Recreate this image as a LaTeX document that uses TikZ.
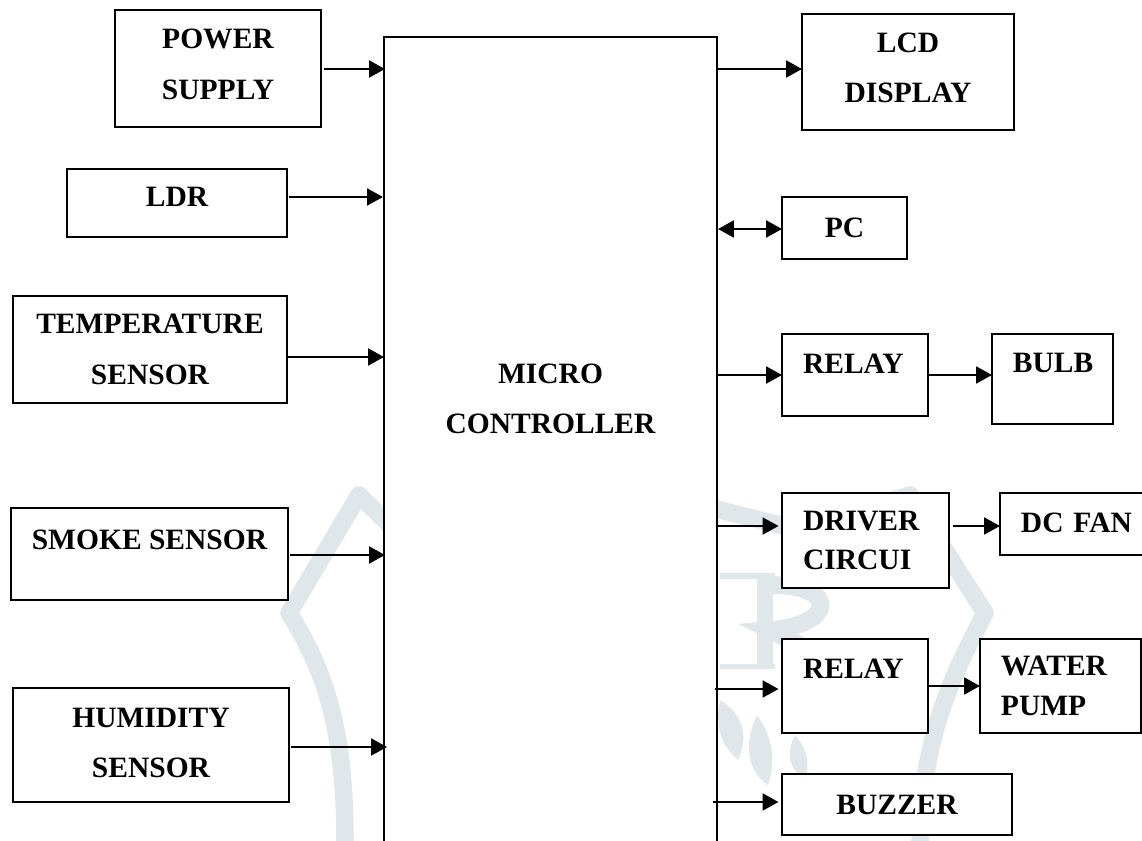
\documentclass[tikz,border=0pt]{standalone}
\usepackage{fontspec}
\setmainfont{Liberation Serif}
\usetikzlibrary{arrows.meta,positioning}
\definecolor{wmk}{HTML}{DFE7EA}
\begin{document}
\begin{tikzpicture}[
  x=0.02cm,y=-0.02cm,
  font=\fontsize{16.8}{28.6}\selectfont\bfseries,
  bx/.style={draw=black,fill=white,line width=1.1pt,outer sep=0pt,inner sep=0pt,align=center},
  lbx/.style={bx,align=left,inner xsep=0.42cm,text width=#1},
  up/.style={text depth=#1},
  ar/.style={-{Stealth[length=9pt,width=9.5pt,inset=0pt]},draw=black,line width=1.5pt},
  dar/.style={{Stealth[length=9pt,width=9.5pt,inset=0pt]}-{Stealth[length=9pt,width=9.5pt,inset=0pt]},draw=black,line width=1.5pt},
  wm/.style={draw=wmk,line width=10pt,line join=round}
]
\useasboundingbox (0,0) rectangle (1142,841);
\clip (0,0) rectangle (1142,841);
% watermark behind the boxes
\draw[wm] (395,530) -- (359,495) -- (289,613) .. controls (325,670) and (345,730) .. (345,841);
\draw[wm] (700,505) -- (800,530) -- (910,495) -- (985,613) .. controls (950,680) and (922,740) .. (920,841);
\fill[wmk] (757,575) rectangle (773,667);
\fill[wmk] (720,573) rectangle (775,579);
\fill[wmk] (720,664) rectangle (775,669);
\draw[wmk,line width=10pt] (770,585) .. controls (840,585) and (835,625) .. (770,630) -- (800,645);
\fill[wmk] (720,700) .. controls (745,715) and (748,740) .. (738,760) .. controls (720,745) and (715,725) .. (720,700);
\fill[wmk] (757,715) .. controls (775,740) and (775,765) .. (768,785) .. controls (745,770) and (745,740) .. (757,715);
\fill[wmk] (795,735) .. controls (808,750) and (810,765) .. (805,780) .. controls (790,770) and (785,755) .. (795,735);

\node[bx,minimum width=6.66cm,minimum height=16.2cm,up=49pt] (mc) at (550.5,442) {MICRO\\CONTROLLER};

% inputs
\node[bx,minimum width=4.12cm,minimum height=2.34cm,up=5pt] (pw) at (218,68.5) {POWER\\SUPPLY};
\node[bx,minimum width=4.4cm,minimum height=1.36cm,up=7pt] (ldr) at (177,203) {LDR};
\node[bx,minimum width=5.48cm,minimum height=2.14cm] (tmp) at (150,349.5) {TEMPERATURE\\SENSOR};
\node[bx,minimum width=5.54cm,minimum height=1.84cm,up=16pt] (smk) at (149.5,554) {SMOKE SENSOR};
\node[bx,minimum width=5.52cm,minimum height=2.28cm,up=2.5pt] (hum) at (151,745) {HUMIDITY\\SENSOR};

% outputs
\node[bx,minimum width=4.24cm,minimum height=2.32cm,up=4.5pt] (lcd) at (908,72) {LCD\\DISPLAY};
\node[bx,minimum width=2.5cm,minimum height=1.24cm] (pc) at (844.5,228) {PC};
\node[lbx=2.08cm,minimum height=1.64cm,up=13pt] (rl1) at (855,375) {RELAY};
\node[lbx=1.58cm,minimum height=1.8cm,up=18pt,right=1.28cm of rl1.north east,anchor=north west] (blb) {BULB};
\node[lbx=2.5cm,minimum height=1.9cm] (drv) at (865.5,540.5) {DRIVER\\[-6.2pt]CIRCUI};
\node[lbx=2.5cm,minimum height=1.24cm,up=1pt,right=1.02cm of drv.north east,anchor=north west] (fan) {DC FAN};
\node[lbx=2.08cm,minimum height=1.88cm,up=20pt] (rl2) at (855,686) {RELAY};
\node[lbx=2.38cm,minimum height=1.88cm,right=1.04cm of rl2.north east,anchor=north west] (pmp) {WATER\\[-6.2pt]PUMP};
\node[bx,minimum width=4.6cm,minimum height=1.22cm] (bz) at (897,804.5) {BUZZER};

% points on the controller edge
\coordinate (mpw) at (385,69);
\coordinate (mld) at (383,197);
\coordinate (mtm) at (384,357);
\coordinate (msm) at (385,555);
\coordinate (mhm) at (387,747);
\coordinate (mlc) at (717,69);
\coordinate (mpc) at (718,229);
\coordinate (mr1) at (717,375);
\coordinate (mdr) at (717,526);
\coordinate (mr2) at (715,689);
\coordinate (mbz) at (713,802);

\draw[ar] ([xshift=2pt]pw.east |- mpw) -- (mpw);
\draw[ar] ([xshift=1pt]ldr.east |- mld) -- (mld);
\draw[ar] (tmp.east |- mtm) -- (mtm);
\draw[ar] ([xshift=1pt]smk.east |- msm) -- (msm);
\draw[ar] ([xshift=1pt]hum.east |- mhm) -- (mhm);

\draw[ar] (mlc) -- (lcd.west |- mlc);
\draw[dar] (mpc) -- (pc.west |- mpc);
\draw[ar] (mr1) -- (rl1.west |- mr1);
\draw[ar] (mdr) -- ([xshift=-2pt]drv.west |- mdr);
\draw[ar] (mr2) -- ([xshift=-2pt]rl2.west |- mr2);
\draw[ar] (mbz) -- ([xshift=-2pt]bz.west |- mbz);

\draw[ar] (rl1.east) -- (blb.west |- rl1.east);
\draw[ar] ([xshift=2pt]drv.east |- mdr) -- (fan.west |- mdr);
\draw[ar] (rl2.east |- pmp.west) -- (pmp.west);
\end{tikzpicture}
\end{document}
